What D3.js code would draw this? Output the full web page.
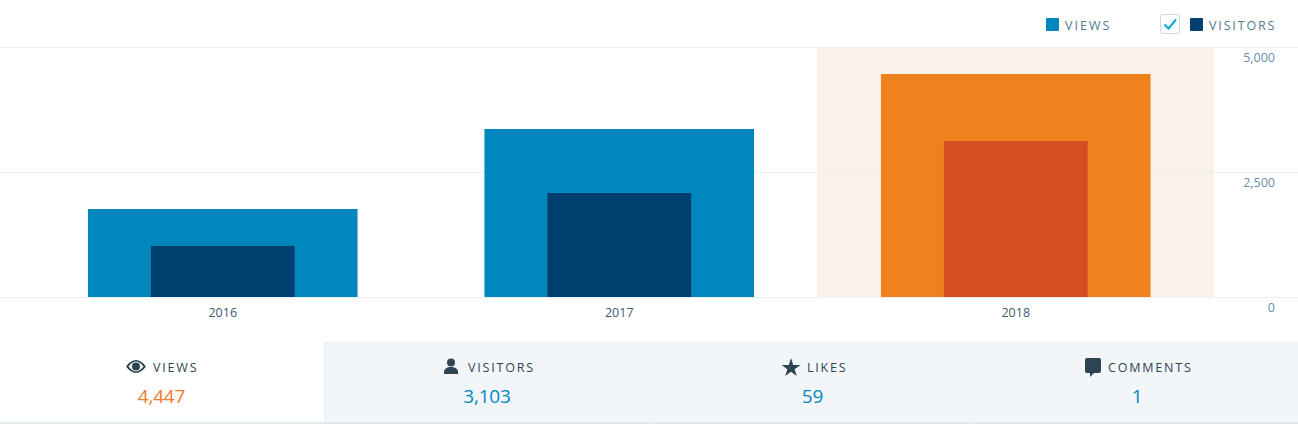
<!DOCTYPE html>
<html>
<head>
<meta charset="utf-8">
<script src="https://cdn.jsdelivr.net/npm/d3@7"></script>
<style>
    html, body { margin: 0; padding: 0; background: #fff; overflow: hidden; }
    svg { display: block; font-family: "Open Sans", sans-serif; }
</style>
</head>
<body>
<div id="chart"></div>
<script>
const years = ['2016', '2017', '2018'];
const views = [1760, 3360, 4447];
const visitors = [1020, 2080, 3103];
const yTicks = [0, 2500, 5000];
const highlightYear = '2018';

const tabNames = ['VIEWS', 'VISITORS', 'LIKES', 'COMMENTS'];
const tabValues = ['4,447', '3,103', '59', '1'];

const width = 1298, height = 425;
const baseline = 297, plotTop = 47;

const svg = d3.select('#chart').append('svg')
    .attr('width', width)
    .attr('height', height);

const x = d3.scaleBand().domain(years).range([24.5, 1214]);
const y = d3.scaleLinear().domain([0, 5000]).range([baseline, plotTop]);

// highlighted year sits behind the grid
svg.append('rect')
    .attr('x', Math.floor(x(highlightYear)))
    .attr('y', plotTop)
    .attr('width', x.bandwidth() + 0.5)
    .attr('height', baseline - plotTop)
    .attr('fill', '#fcf1e8');

// grid lines run the full width
svg.selectAll('.grid')
    .data(yTicks)
    .enter().append('line')
    .attr('class', 'grid')
    .attr('x1', 0)
    .attr('x2', width)
    .attr('y1', d => y(d) + 0.5)
    .attr('y2', d => y(d) + 0.5)
    .attr('stroke', '#e9eff3');

const outerW = x.bandwidth() * 0.68;
const innerW = x.bandwidth() * 0.3625;

function drawBars(values, w, color, hiColor) {
    svg.append('g').selectAll('rect')
        .data(values)
        .enter().append('rect')
        .attr('x', (d, i) => x(years[i]) + (x.bandwidth() - w) / 2)
        .attr('y', d => Math.floor(y(d)))
        .attr('width', w)
        .attr('height', d => baseline - Math.floor(y(d)))
        .attr('fill', (d, i) => years[i] === highlightYear ? hiColor : color);
}
drawBars(views, outerW, '#0087be', '#f0821e');
drawBars(visitors, innerW, '#00406e', '#d54e21');

const xAxis = svg.append('g')
    .attr('transform', `translate(0,${baseline})`)
    .call(d3.axisBottom(x).tickSize(0).tickPadding(11));
xAxis.select('.domain').remove();
xAxis.selectAll('text')
    .style('font-family', '"Open Sans", sans-serif')
    .style('font-size', '12.5px')
    .attr('fill', '#3d596d');

const yAxis = svg.append('g')
    .attr('transform', 'translate(1275,0)')
    .call(d3.axisRight(y).tickValues(yTicks).tickSize(0).tickPadding(0).tickFormat(d3.format(',')));
yAxis.select('.domain').remove();
yAxis.selectAll('text')
    .attr('text-anchor', 'end')
    .attr('dy', '0.32em')
    .attr('y', 10.5)
    .style('font-family', '"Open Sans", sans-serif')
    .style('font-size', '12.5px')
    .attr('fill', '#668eaa');

// legend
const legend = svg.append('g');
legend.append('rect').attr('x', 1046).attr('y', 18).attr('width', 13).attr('height', 13).attr('rx', 1).attr('fill', '#0087be');
legend.append('text').attr('x', 1065).attr('y', 30).text('VIEWS')
    .attr('font-size', 12.5).attr('letter-spacing', 2).attr('fill', '#537994');
legend.append('rect').attr('x', 1160.5).attr('y', 14.5).attr('width', 19).attr('height', 19).attr('rx', 2)
    .attr('fill', '#fff').attr('stroke', '#c8d7e1');
legend.append('path').attr('d', 'M1164.5 24.5l4 4l7.5 -9').attr('fill', 'none').attr('stroke', '#00aadc').attr('stroke-width', 2);
legend.append('rect').attr('x', 1190).attr('y', 18).attr('width', 13).attr('height', 13).attr('rx', 1).attr('fill', '#00406e');
legend.append('text').attr('x', 1209).attr('y', 30).text('VISITORS')
    .attr('font-size', 12.5).attr('letter-spacing', 1.85).attr('fill', '#537994');

// tabs under the chart
const tabW = 325;
const tabs = svg.append('g').selectAll('g')
    .data(tabNames)
    .enter().append('g')
    .attr('transform', (d, i) => `translate(${i ? i * tabW - 1 : 0},342)`);

tabs.append('rect')
    .attr('x', 0.5).attr('y', 0.5)
    .attr('width', tabW).attr('height', 81)
    .attr('fill', (d, i) => i === 0 ? '#fff' : '#f3f6f8')
    .attr('stroke', (d, i) => i === 0 ? 'none' : '#e9eff3');

svg.append('rect').attr('x', 0).attr('y', 422).attr('width', width).attr('height', 2).attr('fill', '#dfe9ef');

const tabLabelX = [153, 468, 807, 1108];
const tabValueX = [161.5, 487, 812.5, 1137];
tabNames.forEach((name, i) => {
    svg.append('text').attr('x', tabLabelX[i]).attr('y', 372).text(name)
        .attr('font-size', 12.5).attr('letter-spacing', 1.8).attr('fill', '#2e4453');
    svg.append('text').attr('x', tabValueX[i]).attr('y', 403).text(tabValues[i])
        .attr('text-anchor', 'middle').attr('font-size', 19).attr('letter-spacing', -0.2)
        .attr('fill', i === 0 ? '#f47b2c' : '#0087be');
});

// icons
const icons = svg.append('g').attr('fill', '#2e4453');
icons.append('path').attr('fill-rule', 'evenodd')
    .attr('d', 'M126 366.5c3-4.3 6.5-6.5 10-6.5s7 2.200 10 6.500c-3 4.300-6.500 6.500-10 6.500s-7-2.200-10-6.500zM128.500 366.500c2.200 2.700 4.800 4.900 7.500 4.900s5.300-2.200 7.500-4.900c-2.200-2.700-4.800-4.900-7.500-4.900s-5.300 2.200-7.500 4.900z');
icons.append('circle').attr('cx', 136).attr('cy', 366.5).attr('r', 4);
icons.append('circle').attr('cx', 451).attr('cy', 362.5).attr('r', 4);
icons.append('path').attr('d', 'M444 374v-2c0-3 3-5 7-5s7 2 7 5v2z');
icons.append('path').attr('d', d3.symbol().type(d3.symbolStar).size(110)()).attr('transform', 'translate(791,368)');
icons.append('path').attr('d', 'M1087 358h12a2 2 0 0 1 2 2v11a2 2 0 0 1-2 2h-5l-4 4v-4h-3a2 2 0 0 1-2-2v-11a2 2 0 0 1 2-2z');
</script>
</body>
</html>
